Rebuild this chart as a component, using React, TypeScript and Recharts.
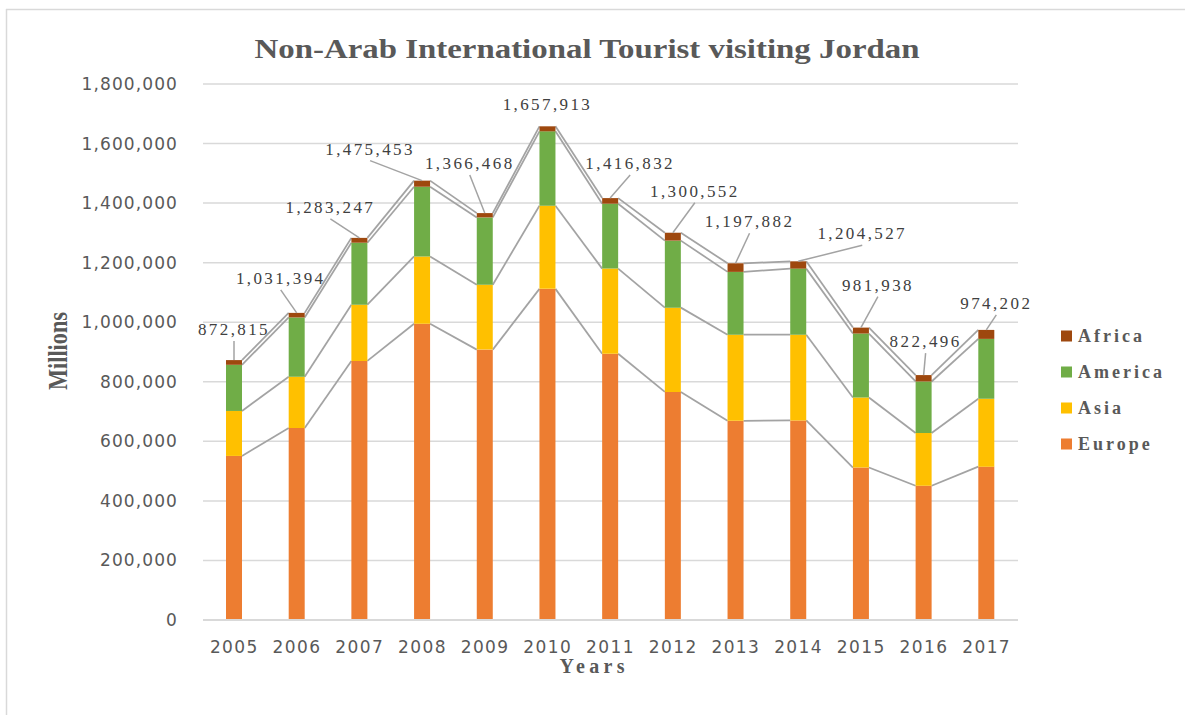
import React from 'react';
import { BarChart, Bar, XAxis, YAxis, CartesianGrid, LabelList } from 'recharts';

const years = ['2005', '2006', '2007', '2008', '2009', '2010', '2011', '2012', '2013', '2014', '2015', '2016', '2017'];
const europe = [551000, 645000, 870000, 995000, 908000, 1112000, 894000, 766000, 669000, 670000, 512000, 451000, 515000];
const asia = [151000, 172000, 189000, 226000, 218000, 279000, 286000, 283000, 289000, 288000, 235000, 177000, 228000];
const america = [155000, 199000, 208000, 234000, 226000, 250000, 218000, 225000, 211000, 222000, 215000, 173000, 201000];
const africa = [15815, 15394, 16247, 20453, 14468, 16913, 18832, 26552, 28882, 24527, 19938, 21496, 30202];
const yTicks = [0, 200000, 400000, 600000, 800000, 1000000, 1200000, 1400000, 1600000, 1800000];

// where each total label sits, relative to the top of its bar (px)
const labelOffsets = [
    [0, -31], [-16, -35], [-29, -31], [-52, -32], [-15, -50], [0, -22], [20, -35],
    [22, -42], [14, -42], [64, -28], [17, -43], [2, -34], [10, -27]
];

const COLORS = {
    europe: '#ED7D31',
    asia: '#FFC000',
    america: '#70AD47',
    africa: '#9E480E'
};

const W = 1185;
const H = 715;
const MARGIN = { top: 84, right: 167, bottom: 65, left: 0 };
const Y_AXIS_W = 203;
const X_AXIS_H = 30;
const SERIES_LINE = '#A3A3A3';
const TEXT = '#595959';

const data = years.map((year, i) => ({
    year,
    europe: europe[i],
    asia: asia[i],
    america: america[i],
    africa: africa[i],
    total: europe[i] + asia[i] + america[i] + africa[i]
}));

const stacks = [europe, asia, america, africa];
const cumulative = (level: number, i: number) => {
    let sum = 0;
    for (let s = 0; s <= level; s++) sum += stacks[s][i];
    return sum;
};

const plotWidth = W - MARGIN.left - MARGIN.right - Y_AXIS_W;
const band = plotWidth / years.length;

// Europe bar also draws the Excel-style series lines to the next bar
const EuropeShape = (props: any) => {
    const { x, y, width, height, index } = props;
    const k = height / europe[index];
    const zeroY = y + height;
    const lines = [];
    if (index < years.length - 1) {
        for (let s = 0; s < stacks.length; s++) {
            const y1 = zeroY - cumulative(s, index) * k;
            const y2 = zeroY - cumulative(s, index + 1) * k;
            lines.push(
                <line key={s} x1={x + width} y1={y1} x2={x + band} y2={y2}
                    stroke={SERIES_LINE} strokeWidth={1.75} />
            );
        }
    }
    return (
        <g>
            {lines}
            <rect x={x} y={y} width={width} height={height} fill={COLORS.europe} />
        </g>
    );
};

const TotalLabel = (props: any) => {
    const { x, y, width, index } = props;
    const [dx, dy] = labelOffsets[index];
    const cx = x + width / 2;
    const lx = cx + dx;
    const ly = y + dy;
    const showLeader = !(dx === 0 && dy > -25);
    return (
        <g>
            {showLeader && (
                <line x1={lx} y1={ly + 12} x2={cx} y2={y} stroke={SERIES_LINE} strokeWidth={1.5} />
            )}
            <text x={lx} y={ly} dy="0.35em" textAnchor="middle" fontFamily="Liberation Serif"
                fontSize={17} letterSpacing={2.4} fill="#404040">
                {data[index].total.toLocaleString('en-US')}
            </text>
        </g>
    );
};

const YTick = ({ x, y, payload }: any) => (
    <text x={x} y={y} dy="0.35em" textAnchor="end" fontFamily="DejaVu Sans" fontSize={17}
        letterSpacing={1.1} fill={TEXT}>
        {Number(payload.value).toLocaleString('en-US')}
    </text>
);

const XTick = ({ x, y, payload }: any) => (
    <text x={x} y={y} dy="0.35em" textAnchor="middle" fontFamily="DejaVu Sans" fontSize={17}
        letterSpacing={1.4} fill={TEXT}>
        {payload.value}
    </text>
);

const legendItems = [
    { name: 'Africa', color: COLORS.africa },
    { name: 'America', color: COLORS.america },
    { name: 'Asia', color: COLORS.asia },
    { name: 'Europe', color: COLORS.europe }
];

export default function App() {
    return (
        <div style={{ position: 'absolute', left: 0, top: 0, width: W, height: H, background: '#fff' }}>
            <BarChart width={W} height={H} data={data} margin={MARGIN} barSize={16}>
                <CartesianGrid vertical={false} stroke="#D9D9D9" strokeWidth={1.5} />
                <XAxis dataKey="year" height={X_AXIS_H} tick={<XTick />} tickLine={false}
                    axisLine={{ stroke: '#D9D9D9', strokeWidth: 2 }} tickMargin={21} interval={0} />
                <YAxis width={Y_AXIS_W} domain={[0, 1800000]} ticks={yTicks} tick={<YTick />}
                    tickLine={false} axisLine={false} tickMargin={19} interval={0} />
                <Bar dataKey="europe" stackId="a" fill={COLORS.europe} shape={<EuropeShape />} isAnimationActive={false} />
                <Bar dataKey="asia" stackId="a" fill={COLORS.asia} isAnimationActive={false} />
                <Bar dataKey="america" stackId="a" fill={COLORS.america} isAnimationActive={false} />
                <Bar dataKey="africa" stackId="a" fill={COLORS.africa} isAnimationActive={false}>
                    <LabelList dataKey="total" content={<TotalLabel />} />
                </Bar>
            </BarChart>
            <svg width={W} height={H} style={{ position: 'absolute', left: 0, top: 0, pointerEvents: 'none' }}>
                <line x1={6.5} y1={9} x2={6.5} y2={H} stroke="#D9D9D9" strokeWidth={1.5} />
                <line x1={6} y1={9.5} x2={W} y2={9.5} stroke="#D9D9D9" strokeWidth={1.5} />
                <text x={587} y={58} textAnchor="middle" fontFamily="Liberation Serif" fontWeight="bold"
                    fontSize={28} textLength={665} lengthAdjust="spacingAndGlyphs" fill={TEXT}>
                    Non-Arab International Tourist visiting Jordan
                </text>
                <text transform="translate(57,351) rotate(-90)" textAnchor="middle" dy="0.35em"
                    fontFamily="Liberation Serif" fontWeight="bold" fontSize={28} textLength={78}
                    lengthAdjust="spacingAndGlyphs" fill={TEXT}>
                    Millions
                </text>
                <text x={592} y={666} dy="0.35em" textAnchor="middle" fontFamily="Liberation Serif"
                    fontWeight="bold" fontSize={20} textLength={65} fill={TEXT}>
                    Years
                </text>
                {legendItems.map((item, i) => (
                    <g key={item.name}>
                        <rect x={1061} y={336 + i * 36 - 5.5} width={11} height={11} fill={item.color} />
                        <text x={1078} y={336 + i * 36} dy="0.35em" fontFamily="Liberation Serif"
                            fontWeight="bold" fontSize={18} letterSpacing={3} fill={TEXT}>
                            {item.name}
                        </text>
                    </g>
                ))}
            </svg>
        </div>
    );
}
